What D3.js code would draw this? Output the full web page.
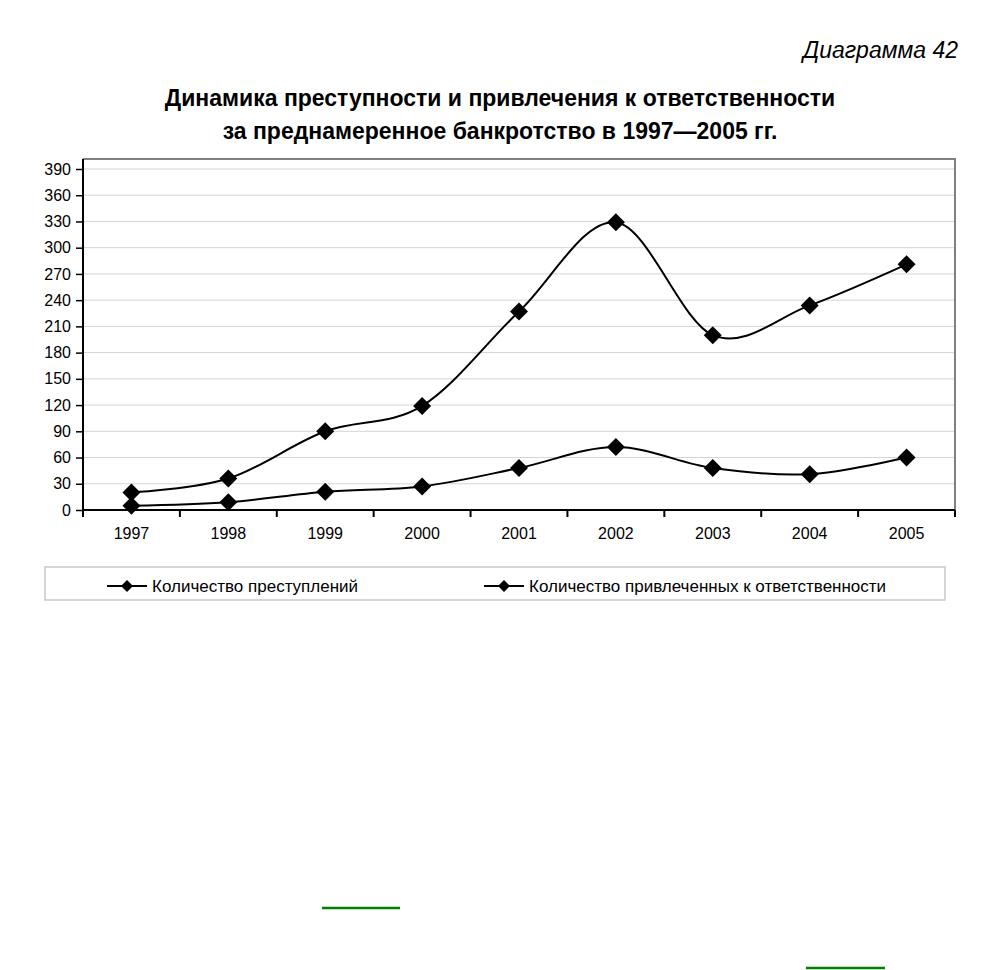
<!DOCTYPE html>
<html><head><meta charset="utf-8">
<script src="https://cdn.jsdelivr.net/npm/d3@7"></script>
<style>body{margin:0;background:#fff}svg{display:block}text{font-family:"Liberation Sans",Arial,sans-serif}</style>
</head><body>
<svg id="c" width="1000" height="970"></svg>
<script>
const years = ["1997","1998","1999","2000","2001","2002","2003","2004","2005"];
const crimes = [20, 36, 90, 119, 227, 329, 200, 234, 281];
const accused = [5, 9, 21, 27, 48, 72, 48, 41, 60];
const yTicks = [0,30,60,90,120,150,180,210,240,270,300,330,360,390];
const seriesNames = ["Количество преступлений","Количество привлеченных к ответственности"];
const titleLines = ["Динамика преступности и привлечения к ответственности","за преднамеренное банкротство в 1997—2005 гг."];
const label = "Диаграмма 42";

const svg = d3.select("#c");
const L=83, R=955, T=159, B=510;
const x = d3.scaleBand().domain(years).range([L,R]).padding(0);
const y = d3.scaleLinear().domain([0,390]).range([B,169]);

svg.append("text").attr("x",958).attr("y",58).attr("text-anchor","end")
  .attr("font-size",23).attr("font-style","italic").text(label);
svg.selectAll(".title").data(titleLines).join("text")
  .attr("x",500).attr("y",(d,i)=>106+i*33).attr("text-anchor","middle")
  .attr("font-size",23).attr("font-weight","bold").text(d=>d);

// grid
svg.append("g").selectAll("line").data(yTicks.slice(1)).join("line")
  .attr("x1",L).attr("x2",R).attr("y1",d=>y(d)).attr("y2",d=>y(d))
  .attr("stroke","#d4d4d4").attr("stroke-width",1);
// plot border top/right
svg.append("path").attr("d",`M${L},${T}H${R}V${B}`).attr("fill","none").attr("stroke","#808080").attr("stroke-width",2);

// y axis
const ya = svg.append("g").attr("transform",`translate(${L},0)`)
  .call(d3.axisLeft(y).tickValues(yTicks).tickSize(7).tickPadding(5));
ya.select(".domain").remove();
ya.selectAll(".tick line").attr("stroke","#000").attr("stroke-width",1.5);
ya.selectAll("text").attr("font-size",16).attr("fill","#000").attr("font-family","Liberation Sans, Arial, sans-serif");
svg.append("line").attr("x1",L).attr("x2",L).attr("y1",T).attr("y2",B+1).attr("stroke","#000").attr("stroke-width",2);

// x axis
const xa = svg.append("g").attr("transform",`translate(0,${B})`)
  .call(d3.axisBottom(x).tickSize(0).tickPadding(18));
xa.select(".domain").remove();
xa.selectAll("text").attr("font-size",16).attr("fill","#000").attr("font-family","Liberation Sans, Arial, sans-serif");
const bounds = years.map(d=>x(d)).concat([R]);
svg.append("g").selectAll("line").data(bounds).join("line")
  .attr("x1",d=>d).attr("x2",d=>d).attr("y1",B).attr("y2",B+7).attr("stroke","#000").attr("stroke-width",2);
svg.append("line").attr("x1",L).attr("x2",R).attr("y1",B).attr("y2",B).attr("stroke","#000").attr("stroke-width",2);

const cx = d => x(d)+x.bandwidth()/2;
const line = d3.line().x((d,i)=>cx(years[i])).y(d=>y(d)).curve(d3.curveCardinal.tension(0));
const diamond = (px,py,s)=>`M${px},${py-s}L${px+s},${py}L${px},${py+s}L${px-s},${py}Z`;

[crimes, accused].forEach(arr=>{
  svg.append("path").attr("d",line(arr)).attr("fill","none").attr("stroke","#000").attr("stroke-width",2);
  svg.append("g").selectAll("path").data(arr).join("path")
    .attr("d",(d,i)=>diamond(cx(years[i]),y(d),9)).attr("fill","#000");
});

// legend
svg.append("rect").attr("x",45).attr("y",567).attr("width",900).attr("height",33)
  .attr("fill","#fff").attr("stroke","#c8c8c8").attr("stroke-width",1.5);
const legX = [107, 484];
seriesNames.forEach((n,i)=>{
  const lx = legX[i];
  svg.append("line").attr("x1",lx).attr("x2",lx+40).attr("y1",586).attr("y2",586).attr("stroke","#000").attr("stroke-width",2);
  svg.append("path").attr("d",diamond(lx+20,586,6)).attr("fill","#000");
  svg.append("text").attr("x",lx+45).attr("y",592).attr("font-size",17).text(n);
});

// green underline marks
svg.append("line").attr("x1",322).attr("x2",400).attr("y1",908).attr("y2",908).attr("stroke","#008000").attr("stroke-width",2.5);
svg.append("line").attr("x1",806).attr("x2",885).attr("y1",968).attr("y2",968).attr("stroke","#008000").attr("stroke-width",2.5);
</script>
</body></html>
